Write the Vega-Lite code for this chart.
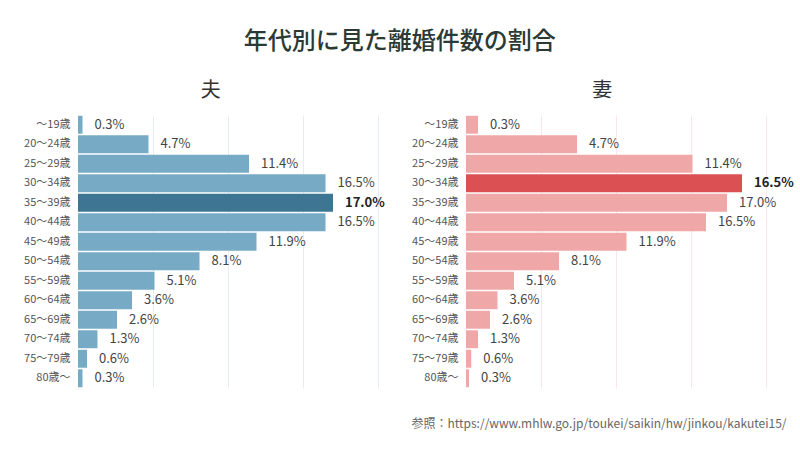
{
  "$schema": "https://vega.github.io/schema/vega-lite/v6.json",
  "background": "white",
  "padding": {"left": 23, "top": 30, "right": 15, "bottom": 10},
  "title": {"text": "年代別に見た離婚件数の割合", "fontSize": 24, "fontWeight": 500, "color": "#2b3a34", "font": "Noto Sans CJK JP", "anchor": "middle", "offset": 27, "dx": -9},
  "spacing": 68,
  "bounds": "flush",
  "datasets": {
    "husband": [
      {"age": "〜19歳", "value": 0.3, "label": "0.3%"},
      {"age": "20〜24歳", "value": 4.7, "label": "4.7%"},
      {"age": "25〜29歳", "value": 11.4, "label": "11.4%"},
      {"age": "30〜34歳", "value": 16.5, "label": "16.5%"},
      {"age": "35〜39歳", "value": 17.0, "label": "17.0%"},
      {"age": "40〜44歳", "value": 16.5, "label": "16.5%"},
      {"age": "45〜49歳", "value": 11.9, "label": "11.9%"},
      {"age": "50〜54歳", "value": 8.1, "label": "8.1%"},
      {"age": "55〜59歳", "value": 5.1, "label": "5.1%"},
      {"age": "60〜64歳", "value": 3.6, "label": "3.6%"},
      {"age": "65〜69歳", "value": 2.6, "label": "2.6%"},
      {"age": "70〜74歳", "value": 1.3, "label": "1.3%"},
      {"age": "75〜79歳", "value": 0.6, "label": "0.6%"},
      {"age": "80歳〜", "value": 0.3, "label": "0.3%"}
    ],
    "wife": [
      {"age": "〜19歳", "value": 0.8, "label": "0.3%"},
      {"age": "20〜24歳", "value": 7.4, "label": "4.7%"},
      {"age": "25〜29歳", "value": 15.1, "label": "11.4%"},
      {"age": "30〜34歳", "value": 18.4, "label": "16.5%"},
      {"age": "35〜39歳", "value": 17.4, "label": "17.0%"},
      {"age": "40〜44歳", "value": 16.0, "label": "16.5%"},
      {"age": "45〜49歳", "value": 10.7, "label": "11.9%"},
      {"age": "50〜54歳", "value": 6.2, "label": "8.1%"},
      {"age": "55〜59歳", "value": 3.2, "label": "5.1%"},
      {"age": "60〜64歳", "value": 2.1, "label": "3.6%"},
      {"age": "65〜69歳", "value": 1.6, "label": "2.6%"},
      {"age": "70〜74歳", "value": 0.8, "label": "1.3%"},
      {"age": "75〜79歳", "value": 0.35, "label": "0.6%"},
      {"age": "80歳〜", "value": 0.2, "label": "0.3%"}
    ]
  },
  "hconcat": [
    {
      "width": 320,
      "height": 273,
      "data": {"name": "husband"},
      "title": {"text": "夫", "fontSize": 20, "fontWeight": "normal", "color": "#333333", "frame": "bounds", "anchor": "middle", "offset": 14},
      "encoding": {
        "y": {"field": "age", "type": "nominal", "scale": {"domain": ["〜19歳","20〜24歳","25〜29歳","30〜34歳","35〜39歳","40〜44歳","45〜49歳","50〜54歳","55〜59歳","60〜64歳","65〜69歳","70〜74歳","75〜79歳","80歳〜"], "paddingInner": 0.08, "paddingOuter": 0.04}, "axis": {"title": null, "domain": false, "ticks": false, "labelPadding": 8, "labelFontSize": 11, "labelColor": "#555555"}},
        "x": {"field": "value", "type": "quantitative", "scale": {"domain": [0, 21.333], "nice": false}, "axis": {"values": [5, 10, 15, 20], "labels": false, "ticks": false, "domain": false, "grid": true, "gridColor": "#e3edf3", "title": null}}
      },
      "layer": [
        {"mark": {"type": "bar"}, "encoding": {"color": {"condition": {"test": "datum.age === '35〜39歳'", "value": "#3e7592"}, "value": "#77abc5"}}},
        {"transform": [{"filter": "datum.age !== '35〜39歳'"}], "mark": {"type": "text", "align": "left", "baseline": "middle", "dx": 12, "fontSize": 13, "color": "#444444"}, "encoding": {"text": {"field": "label"}}},
        {"transform": [{"filter": "datum.age === '35〜39歳'"}], "mark": {"type": "text", "align": "left", "baseline": "middle", "dx": 12, "fontSize": 13, "fontWeight": "bold", "color": "#222222"}, "encoding": {"text": {"field": "label"}}}
      ]
    },
    {
      "width": 320,
      "height": 273,
      "data": {"name": "wife"},
      "title": {"text": "妻", "fontSize": 20, "fontWeight": "normal", "color": "#333333", "frame": "bounds", "anchor": "middle", "offset": 14},
      "encoding": {
        "y": {"field": "age", "type": "nominal", "scale": {"domain": ["〜19歳","20〜24歳","25〜29歳","30〜34歳","35〜39歳","40〜44歳","45〜49歳","50〜54歳","55〜59歳","60〜64歳","65〜69歳","70〜74歳","75〜79歳","80歳〜"], "paddingInner": 0.08, "paddingOuter": 0.04}, "axis": {"title": null, "domain": false, "ticks": false, "labelPadding": 8, "labelFontSize": 11, "labelColor": "#555555"}},
        "x": {"field": "value", "type": "quantitative", "scale": {"domain": [0, 21.333], "nice": false}, "axis": {"values": [5, 10, 15, 20], "labels": false, "ticks": false, "domain": false, "grid": true, "gridColor": "#fbe7e9", "title": "参照：https://www.mhlw.go.jp/toukei/saikin/hw/jinkou/kakutei15/", "titleAnchor": "end", "titleFontSize": 12, "titleFontWeight": "normal", "titleColor": "#666666", "titlePadding": 30}}
      },
      "layer": [
        {"mark": {"type": "bar"}, "encoding": {"color": {"condition": {"test": "datum.age === '30〜34歳'", "value": "#db5052"}, "value": "#f0a7a8"}}},
        {"transform": [{"filter": "datum.age !== '30〜34歳'"}], "mark": {"type": "text", "align": "left", "baseline": "middle", "dx": 12, "fontSize": 13, "color": "#444444"}, "encoding": {"text": {"field": "label"}}},
        {"transform": [{"filter": "datum.age === '30〜34歳'"}], "mark": {"type": "text", "align": "left", "baseline": "middle", "dx": 12, "fontSize": 13, "fontWeight": "bold", "color": "#222222"}, "encoding": {"text": {"field": "label"}}}
      ]
    }
  ],
  "config": {"view": {"stroke": null}, "font": "Noto Sans CJK JP"}
}
